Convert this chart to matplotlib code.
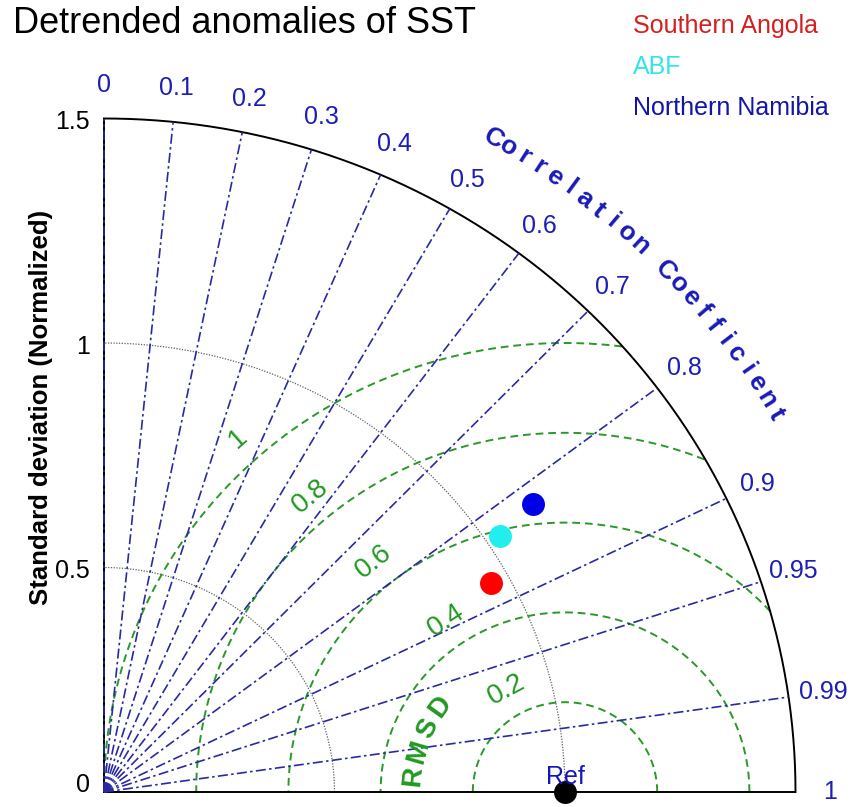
import numpy as np
import matplotlib
matplotlib.use('Agg')
import matplotlib.pyplot as plt

plt.rcParams['font.family'] = ['Liberation Sans', 'DejaVu Sans']

title = 'Detrended anomalies of SST'
names = ['Southern Angola', 'ABF', 'Northern Namibia']
std_norm = [0.96, 1.03, 1.13]
corr = [0.874, 0.833, 0.823]
point_colors = ['#ff0000', '#22eeee', '#0000e6']
text_colors = ['#d42020', '#33e3ea', '#1414a8']

corr_ticks = [0, 0.1, 0.2, 0.3, 0.4, 0.5, 0.6, 0.7, 0.8, 0.9, 0.95, 0.99, 1]
corr_tick_labels = ['0', '0.1', '0.2', '0.3', '0.4', '0.5', '0.6', '0.7',
                    '0.8', '0.9', '0.95', '0.99', '1']
std_ticks = [0, 0.5, 1.0, 1.5]
std_tick_labels = ['0', '0.5', '1', '1.5']
std_grid = [0.5, 1.0]
rmsd_levels = [0.2, 0.4, 0.6, 0.8, 1.0]
rmsd_labels = ['0.2', '0.4', '0.6', '0.8', '1']
rmsd_label_angles = [119, 124, 129, 130, 132]
ref_std = 1.0
rmax = 1.5

W, H = 854, 807
fig = plt.figure(figsize=(W / 100, H / 100), dpi=100)
x0px, y0px = 104, 792
sx, sy = 461, 449
ax = fig.add_axes([x0px / W, (H - y0px) / H, rmax * sx / W, rmax * sy / H])
ax.set_xlim(0, rmax)
ax.set_ylim(0, rmax)
ax.axis('off')


def rot_cw(theta_deg):
    t = np.radians(theta_deg)
    return np.degrees(np.arctan2(-np.cos(t) * sy, np.sin(t) * sx))


blue_line = '#2a2aa0'
blue_text = '#1e1eb4'
green = '#2a982a'
fs = 18

# std-dev grid arcs (dotted gray)
th = np.linspace(0, np.pi / 2, 400)
for r in std_grid:
    ax.plot(r * np.cos(th), r * np.sin(th), color='#606060', lw=0.9,
            ls=(0, (1, 1.2)), clip_on=False, zorder=1)

# RMSD circles (green dashed) clipped to the quarter disk
phi = np.linspace(0, np.pi, 800)
for r in rmsd_levels:
    x = ref_std + r * np.cos(phi)
    y = r * np.sin(phi)
    m = (x ** 2 + y ** 2 > rmax ** 2) | (x < 0)
    x = np.where(m, np.nan, x)
    y = np.where(m, np.nan, y)
    ax.plot(x, y, color=green, lw=1.4, ls=(0, (4, 2.5)), clip_on=False, zorder=2)

# outer frame
ax.plot(rmax * np.cos(th), rmax * np.sin(th), color='black', lw=1.4, clip_on=False, zorder=3)
ax.plot([0, rmax], [0, 0], color='black', lw=1.4, clip_on=False, zorder=3)
ax.plot([0, 0], [0, rmax], color='black', lw=1.4, clip_on=False, zorder=3)

# correlation lines and labels
for c, lab in zip(corr_ticks, corr_tick_labels):
    a = np.arccos(c)
    if c < 1:
        ax.plot([0, rmax * np.cos(a)], [0, rmax * np.sin(a)], color=blue_line,
                lw=1.2, ls=(0, (6, 2, 1.5, 2)), clip_on=False, zorder=3)
    ax.text(1.575 * np.cos(a), 1.575 * np.sin(a), lab, ha='center', va='center',
            fontsize=fs, color=blue_text, clip_on=False)

# curved "Correlation Coefficient"
s = 'Correlation Coefficient'
angs = np.linspace(59.9, 30.0, len(s))
for ch, a in zip(s, angs):
    if ch == ' ':
        continue
    t = np.radians(a)
    ax.text(1.683 * np.cos(t), 1.683 * np.sin(t), ch, rotation=rot_cw(a),
            rotation_mode='anchor', ha='center', va='center', fontsize=19,
            fontweight='bold', color='#1a1ab8', clip_on=False)

# RMSD labels
for r, lab, a in zip(rmsd_levels, rmsd_labels, rmsd_label_angles):
    t = np.radians(a)
    d = r + 0.06
    ax.text(ref_std + d * np.cos(t), d * np.sin(t), lab, rotation=rot_cw(a),
            rotation_mode='anchor', ha='center', va='center', fontsize=20,
            color='#229922', clip_on=False)

s = 'RMSD'
angs = np.linspace(174, 145, len(s))
for ch, a in zip(s, angs):
    t = np.radians(a)
    ax.text(ref_std + 0.33 * np.cos(t), 0.33 * np.sin(t), ch, rotation=rot_cw(a),
            rotation_mode='anchor', ha='center', va='center', fontsize=20,
            fontweight='bold', color='#229922', clip_on=False)

# std ticks labels
for v, lab in zip(std_ticks, std_tick_labels):
    yy = v - 0.008 if v > 0 else 0.016
    ax.text(-0.030, yy, lab, ha='right', va='center', fontsize=fs, color='black',
            clip_on=False)

fig.text(41 / W, 1 - 407 / H, 'Standard deviation (Normalized)', rotation=90,
         ha='center', va='center', fontsize=18.5, fontweight='bold')

# reference point
ax.plot([ref_std], [0], 'o', color='black', ms=15.5, clip_on=False, zorder=6)
ax.text(ref_std, 0.033, 'Ref', ha='center', va='center', fontsize=fs,
        color='#1515c0', clip_on=False, zorder=7)

# model points
for sd, c, col in zip(std_norm, corr, point_colors):
    a = np.arccos(c)
    ax.plot([sd * np.cos(a)], [sd * np.sin(a)], 'o', color=col, ms=15.5,
            clip_on=False, zorder=6)

# legend texts
for i, (n, col) in enumerate(zip(names, text_colors)):
    fig.text(633 / W, 1 - (33 + 41 * i) / H, n, ha='left', va='baseline',
             fontsize=fs, color=col)

fig.text(13 / W, 1 - 33 / H, title, ha='left', va='baseline', fontsize=26)

fig.savefig('out.png', dpi=100)
